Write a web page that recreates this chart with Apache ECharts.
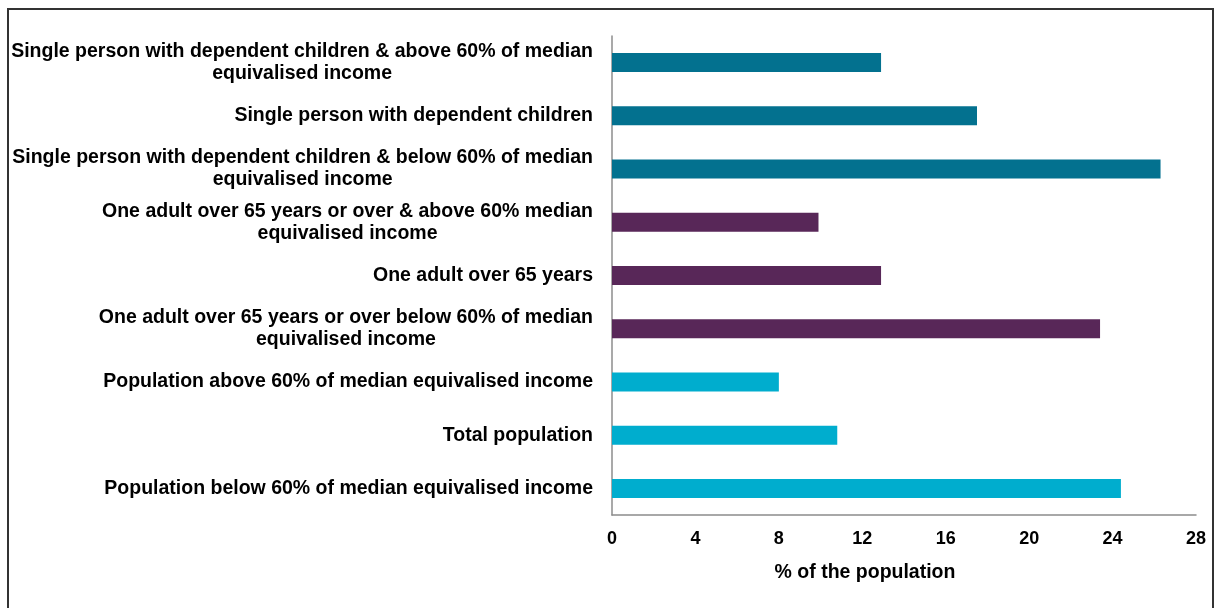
<!DOCTYPE html>
<html>
<head>
<meta charset="utf-8">
<script src="https://cdn.jsdelivr.net/npm/echarts@6/dist/echarts.min.js"></script>
<style>
  html, body { margin: 0; padding: 0; background: #fff; overflow: hidden; }
  #chart { position: absolute; left: 0; top: 0; width: 1214px; height: 608px; }
  #frame { position: absolute; left: 7px; top: 8px; width: 1203px; height: 700px;
           border: 2px solid #333; pointer-events: none; box-sizing: content-box; }
</style>
</head>
<body>
<div id="chart"></div>
<div id="frame"></div>
<script>
// Categories, top to bottom as shown
const categories = [
  'Single person with dependent children & above 60% of median\nequivalised income',
  'Single person with dependent children',
  'Single person with dependent children & below 60% of median\nequivalised income',
  'One adult over 65 years or over & above 60% median\nequivalised income',
  'One adult over 65 years',
  'One adult over 65 years or over below 60% of median\nequivalised income',
  'Population above 60% of median equivalised income',
  'Total population',
  'Population below 60% of median equivalised income'
];
// % of the population
const values = [12.9, 17.5, 26.3, 9.9, 12.9, 23.4, 8.0, 10.8, 24.4];
// group of each bar (determines colour)
const groups = ['single', 'single', 'single', 'elder', 'elder', 'elder', 'pop', 'pop', 'pop'];
const xTicks = [0, 4, 8, 12, 16, 20, 24, 28];

const groupColors = { single: '#03718F', elder: '#582758', pop: '#00ADCE' };

const chart = echarts.init(document.getElementById('chart'), null, { renderer: 'canvas' });
const font = 'Liberation Sans, Arial, sans-serif';

chart.setOption({
  animation: false,
  backgroundColor: '#fff',
  grid: { left: 612, right: 18, top: 36, bottom: 93, containLabel: false },
  xAxis: {
    type: 'value',
    min: xTicks[0],
    max: xTicks[xTicks.length - 1],
    interval: xTicks[1] - xTicks[0],
    name: '% of the population',
    nameLocation: 'middle',
    nameGap: 48,
    nameTextStyle: { fontFamily: font, fontWeight: 'bold', fontSize: 19.5, color: '#000', padding: [0, 78, 0, 0] },
    axisLine: { show: true, lineStyle: { color: '#8c8c8c', width: 1.5 } },
    axisTick: { show: false },
    splitLine: { show: false },
    axisLabel: { fontFamily: font, fontWeight: 'bold', fontSize: 18, color: '#000', margin: 15 }
  },
  yAxis: {
    type: 'category',
    data: categories,
    inverse: true,
    axisLine: { show: true, lineStyle: { color: '#8c8c8c', width: 1.5 } },
    axisTick: { show: false },
    axisLabel: {
      margin: 19,
      align: 'right',
      formatter: v => v.split('\n').map(l => '{c|' + l + '}').join('\n'),
      rich: {
        c: { align: 'center', fontFamily: font, fontWeight: 'bold', fontSize: 19.5, color: '#000', lineHeight: 22 }
      }
    }
  },
  series: [{
    type: 'bar',
    barWidth: 19,
    data: values.map((v, i) => ({ value: v, itemStyle: { color: groupColors[groups[i]] } }))
  }]
});
</script>
</body>
</html>
